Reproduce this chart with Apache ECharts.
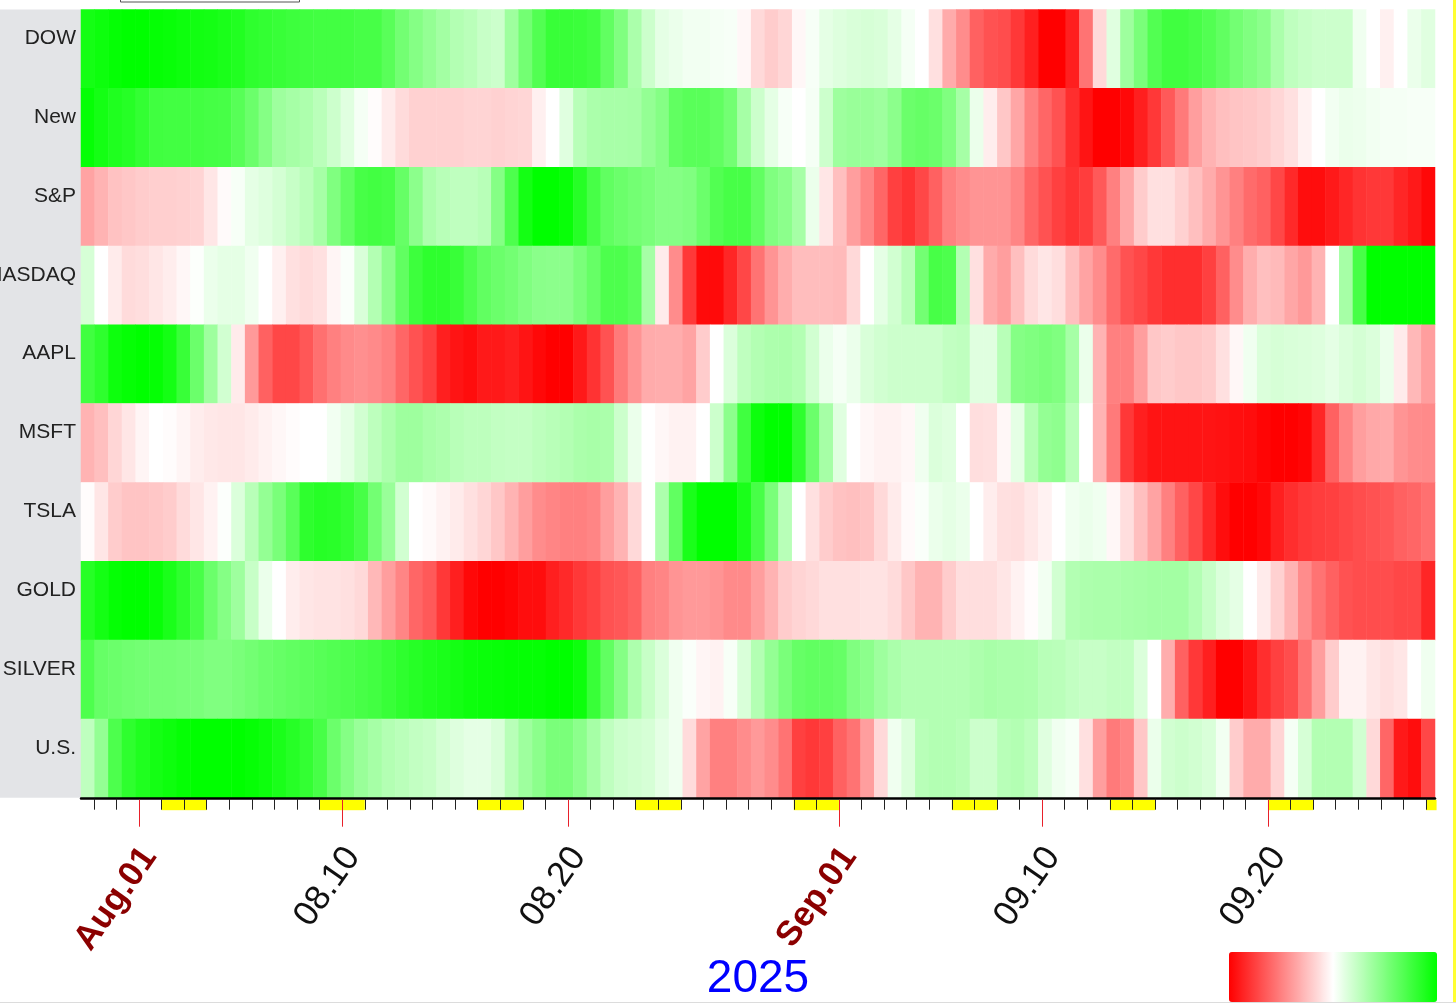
<!DOCTYPE html>
<html>
<head>
<meta charset="utf-8">
<script src="https://cdn.jsdelivr.net/npm/echarts@6/dist/echarts.min.js"></script>
<style>
    * { margin: 0; padding: 0; }
    html, body { background: #fff; }
    #main { width: 1456px; height: 1003px; }
</style>
</head>
<body>
<div id="main"></div>
<script>
    var symbols = ['DOW', 'New', 'S&P', 'NASDAQ', 'AAPL', 'MSFT', 'TSLA', 'GOLD', 'SILVER', 'U.S.'];

    var dow = [.92,.95,.98,1,1,.98,.97,.95,.93,.92,.9,.87,.82,.8,.78,.76,.75,.74,.74,.74,.72,.72,.65,.55,.48,.42,.36,.3,.27,.22,.2,.38,.55,.68,.78,.78,.77,.74,.62,.5,.33,.2,.1,.08,.05,.05,.04,.03,-.03,-.15,-.2,-.16,-.03,.03,.1,.13,.15,.16,.15,.1,.04,0,-.12,-.33,-.45,-.62,-.68,-.7,-.78,-.88,-1,-1,-.88,-.55,-.15,.12,.38,.52,.68,.75,.75,.72,.68,.62,.55,.5,.45,.33,.25,.22,.2,.2,.2,.06,0,-.06,0,.08,.12];
    var newRow = [.98,.92,.88,.85,.8,.75,.74,.74,.74,.73,.72,.66,.58,.48,.38,.35,.32,.27,.2,.12,.04,-.01,-.08,-.14,-.18,-.18,-.18,-.18,-.17,-.17,-.18,-.17,-.16,-.06,0,.12,.28,.33,.34,.34,.35,.42,.48,.62,.65,.65,.62,.55,.35,.2,.1,.03,0,.04,.2,.38,.4,.4,.38,.45,.58,.6,.58,.5,.35,.08,-.07,-.22,-.35,-.5,-.6,-.68,-.82,-.92,-1,-1,-.97,-.88,-.78,-.65,-.52,-.38,-.3,-.25,-.23,-.22,-.2,-.16,-.12,-.05,0,.05,.08,.07,.05,.04,.04,.03,.03];
    var sp = [-.36,-.3,-.24,-.22,-.2,-.19,-.19,-.18,-.17,-.1,-.02,.03,.1,.13,.17,.22,.27,.35,.5,.62,.72,.74,.72,.6,.45,.32,.28,.25,.25,.28,.48,.7,.92,1,1,.97,.85,.72,.62,.58,.55,.52,.48,.48,.5,.58,.68,.72,.72,.62,.5,.45,.35,.08,-.1,-.25,-.38,-.48,-.6,-.75,-.8,-.72,-.62,-.5,-.45,-.42,-.42,-.42,-.48,-.6,-.68,-.75,-.8,-.76,-.65,-.5,-.35,-.2,-.12,-.12,-.18,-.25,-.33,-.42,-.5,-.58,-.62,-.72,-.84,-.95,-.95,-.9,-.85,-.8,-.78,-.78,-.85,-.9,-.97];
    var nasdaq = [.16,0,-.08,-.14,-.13,-.1,-.07,-.03,.01,.08,.1,.1,.06,0,-.06,-.12,-.14,-.12,-.04,.02,.15,.3,.45,.62,.76,.82,.82,.78,.7,.62,.58,.55,.5,.46,.45,.45,.52,.6,.7,.7,.65,.35,-.08,-.45,-.78,-.96,-.96,-.85,-.72,-.55,-.42,-.32,-.26,-.26,-.26,-.27,-.15,0,.1,.18,.28,.55,.72,.7,.3,-.12,-.33,-.38,-.25,-.14,-.1,-.13,-.25,-.36,-.45,-.58,-.68,-.72,-.78,-.82,-.82,-.82,-.75,-.62,-.45,-.32,-.25,-.27,-.35,-.4,-.3,0,.35,.72,1,1,1,1,1];
    var aapl = [.75,.82,.95,.98,1,.98,.92,.78,.58,.38,.18,-.08,-.4,-.62,-.72,-.72,-.66,-.56,-.5,-.46,-.44,-.46,-.5,-.6,-.68,-.75,-.88,-.92,-.95,-.9,-.9,-.88,-.92,-.97,-1,-1,-.9,-.8,-.68,-.52,-.42,-.33,-.32,-.32,-.36,-.2,0,.14,.25,.3,.32,.33,.3,.18,.08,.04,.08,.15,.18,.2,.2,.2,.2,.24,.25,.12,.12,.28,.48,.5,.52,.5,.35,.08,-.3,-.5,-.5,-.38,-.22,-.2,-.22,-.22,-.2,-.12,-.03,.06,.14,.16,.15,.14,.13,.1,.14,.17,.14,.08,-.08,-.28,-.38];
    var msft = [-.3,-.25,-.16,-.1,-.04,0,-.01,-.04,-.07,-.09,-.1,-.1,-.08,-.05,-.03,-.01,0,0,.05,.1,.18,.26,.32,.38,.38,.34,.32,.28,.26,.26,.24,.23,.23,.26,.28,.3,.33,.34,.33,.2,.08,0,-.03,-.05,-.05,0,.2,.45,.75,.95,1,1,.82,.58,.35,.12,0,-.03,-.05,-.05,-.03,.06,.14,.12,0,-.13,-.12,-.03,.1,.3,.42,.44,.28,0,-.3,-.52,-.78,-.88,-.92,-.92,-.92,-.92,-.92,-.93,-.94,-.95,-.98,-1,-1,-.98,-.85,-.62,-.48,-.38,-.34,-.33,-.42,-.45,-.46];
    var tsla = [-.01,-.1,-.2,-.23,-.23,-.22,-.2,-.14,-.1,-.05,.01,.14,.28,.42,.52,.65,.82,.85,.84,.8,.72,.55,.4,.18,0,-.02,-.05,-.08,-.12,-.16,-.22,-.3,-.38,-.45,-.48,-.5,-.5,-.48,-.38,-.3,-.15,0,.32,.62,.9,1,1,1,.9,.72,.52,.28,0,-.12,-.2,-.24,-.25,-.23,-.15,-.08,-.02,.02,.08,.1,.08,0,-.07,-.12,-.13,-.09,-.05,0,.06,.08,.06,-.03,-.13,-.25,-.36,-.5,-.62,-.72,-.85,-.95,-1,-1,-.97,-.88,-.82,-.78,-.76,-.75,-.72,-.7,-.68,-.66,-.62,-.6,-.56];
    var gold = [.85,.92,.98,1,1,.97,.9,.82,.72,.58,.48,.38,.22,.08,0,-.07,-.1,-.11,-.11,-.12,-.15,-.28,-.38,-.48,-.6,-.65,-.78,-.88,-.97,-1,-1,-.98,-.95,-.95,-.88,-.84,-.78,-.74,-.68,-.66,-.62,-.5,-.48,-.42,-.4,-.4,-.42,-.46,-.46,-.38,-.3,-.2,-.17,-.15,-.12,-.12,-.12,-.11,-.11,-.14,-.22,-.3,-.3,-.2,-.13,-.13,-.13,-.1,-.05,-.01,.05,.18,.3,.32,.33,.33,.34,.35,.36,.36,.36,.3,.22,.14,.1,0,-.08,-.18,-.3,-.45,-.55,-.62,-.68,-.7,-.7,-.7,-.72,-.72,-.85];
    var silver = [.7,.6,.58,.56,.55,.54,.54,.53,.52,.5,.5,.52,.55,.58,.6,.62,.64,.66,.68,.7,.72,.74,.78,.82,.85,.88,.9,.92,.95,.96,.97,.98,.98,.98,1,1,.95,.78,.62,.48,.32,.22,.14,.06,.02,-.04,-.05,.03,.15,.3,.42,.52,.6,.62,.62,.6,.5,.45,.38,.33,.3,.3,.3,.3,.3,.32,.34,.33,.33,.32,.28,.27,.24,.22,.22,.24,.24,.14,0,-.32,-.62,-.78,-.88,-1,-1,-.92,-.82,-.75,-.7,-.55,-.38,-.2,-.05,-.05,-.1,-.12,-.1,0,.06];
    var usd = [.25,.42,.7,.82,.88,.92,.95,.98,1,1,1,1,.98,.95,.9,.85,.8,.72,.58,.48,.4,.35,.3,.27,.24,.22,.17,.13,.1,.1,.15,.28,.38,.45,.52,.52,.45,.35,.25,.2,.18,.16,.1,.06,-.14,-.36,-.5,-.5,-.45,-.4,-.45,-.55,-.75,-.78,-.75,-.62,-.55,-.38,-.15,.06,.14,.28,.3,.3,.28,.2,.2,.28,.3,.26,.12,.06,.03,-.12,-.38,-.52,-.48,-.22,.08,.18,.2,.18,.15,.05,-.2,-.33,-.33,-.17,.04,.16,.3,.3,.3,.18,-.15,-.6,-.9,-.95,-.72];

    var rows = [dow, newRow, sp, nasdaq, aapl, msft, tsla, gold, silver, usd];

    // days counted from Aug 1
    var dayMin = -2.568, dayMax = 57.4;
    var dayTicks = [-2,-1,1,2,3,4,5,6,7,8,10,11,12,13,14,15,16,17,18,20,21,22,23,24,25,26,27,28,29,30,32,33,34,35,36,37,38,39,41,42,43,44,45,46,47,48,49,51,52,53,54,55,56,57];
    var weekendDays = [1,2,8,9,15,16,22,23,29,30,36,37,43,44,50,51,57];
    var labelDays = [0, 9, 19, 31, 40, 50];
    var labelTexts = ['Aug.01', '08.10', '08.20', 'Sep.01', '09.10', '09.20'];

    var heatData = [];
    rows.forEach(function (row, r) {
        row.forEach(function (v, c) {
            heatData.push([c, r, v]);
        });
    });
    var columns = dow.map(function (v, i) { return String(i); });

    var chart = echarts.init(document.getElementById('main'));

    chart.setOption({
        animation: false,
        backgroundColor: '#fff',
        textStyle: { fontFamily: '"Liberation Sans", Arial, sans-serif' },
        title: {
            text: '2025',
            left: 758,
            top: 979,
            padding: 0,
            textAlign: 'center',
            textVerticalAlign: 'middle',
            textStyle: { color: '#0000ff', fontSize: 46, fontWeight: 'normal', fontFamily: '"Liberation Sans", Arial, sans-serif' }
        },
        grid: { left: 81, top: 9.5, width: 1354, height: 788.2, outerBoundsMode: 'none' },
        xAxis: [
            { type: 'category', data: columns, show: false },
            {
                type: 'value',
                position: 'bottom',
                offset: 1,
                min: dayMin,
                max: dayMax,
                z: 5,
                splitLine: { show: false },
                axisLine: { show: true, onZero: false, lineStyle: { color: '#000', width: 2.5 } },
                axisTick: { show: true, customValues: dayTicks, length: 11, lineStyle: { color: '#222', width: 1 } },
                axisLabel: { show: false }
            }
        ],
        yAxis: [
            {
                type: 'category',
                data: symbols,
                inverse: true,
                axisLine: { show: false, onZero: false },
                axisTick: { show: false },
                axisLabel: {
                    color: '#222',
                    fontSize: 21,
                    margin: 5,
                    verticalAlign: 'bottom',
                    fontFamily: '"Liberation Sans", Arial, sans-serif'
                }
            },
            { type: 'value', min: 0, max: 1, show: false }
        ],
        visualMap: {
            type: 'continuous',
            seriesIndex: 0,
            min: -1,
            max: 1,
            orient: 'horizontal',
            left: 1229,
            top: 952,
            itemWidth: 50,
            itemHeight: 208,
            padding: 0,
            text: null,
            showLabel: false,
            calculable: false,
            inRange: { color: ['#ff0000', '#ffffff', '#00ff00'] }
        },
        graphic: [
            { type: 'rect', z: 0, shape: { x: 0, y: 9.5, width: 81, height: 788.2 }, style: { fill: '#e3e4e7' } },
            { type: 'rect', z: 0, shape: { x: 120.5, y: -5, width: 179, height: 7 }, style: { fill: '#fff', stroke: '#555', lineWidth: 1 } },
            { type: 'rect', z: 0, shape: { x: 1453, y: 0, width: 3, height: 1003 }, style: { fill: '#ffff33' } },
            { type: 'rect', z: 0, shape: { x: 0, y: 1002, width: 1456, height: 1 }, style: { fill: '#dcdcdc' } }
        ],
        series: [
            {
                type: 'heatmap',
                xAxisIndex: 0,
                yAxisIndex: 0,
                data: heatData,
                progressive: 0
            },
            {
                // weekend bands under the axis
                type: 'custom',
                xAxisIndex: 1,
                yAxisIndex: 1,
                clip: false,
                silent: true,
                z: 3,
                data: weekendDays,
                renderItem: function (params, api) {
                    var a = api.coord([api.value(0), 0]);
                    var b = api.coord([Math.min(api.value(0) + 1, dayMax + 0.07), 0]);
                    return {
                        type: 'rect',
                        shape: { x: a[0], y: a[1] + 2, width: b[0] - a[0], height: 10.5 },
                        style: { fill: '#ffff00' }
                    };
                }
            },
            {
                // long red ticks and the date labels
                type: 'custom',
                xAxisIndex: 1,
                yAxisIndex: 1,
                clip: false,
                silent: true,
                z: 6,
                data: labelDays,
                renderItem: function (params, api) {
                    var p = api.coord([api.value(0), 0]);
                    var text = labelTexts[params.dataIndex];
                    var isMonth = text.charAt(0) > '9';
                    var tx = Math.round(p[0]) + 0.5;
                    return {
                        type: 'group',
                        children: [
                            {
                                type: 'line',
                                shape: { x1: tx, y1: p[1] + 2, x2: tx, y2: p[1] + 29 },
                                style: { stroke: '#e8202a', lineWidth: 1 }
                            },
                            {
                                type: 'text',
                                x: p[0] + 10.5,
                                y: 851,
                                rotation: 55 * Math.PI / 180,
                                style: {
                                    text: text,
                                    align: 'right',
                                    verticalAlign: 'middle',
                                    fill: isMonth ? '#8b0000' : '#111',
                                    font: (isMonth ? 'bold ' : '') + '35px "Liberation Sans", Arial, sans-serif'
                                }
                            }
                        ]
                    };
                }
            }
        ]
    });
</script>
</body>
</html>
